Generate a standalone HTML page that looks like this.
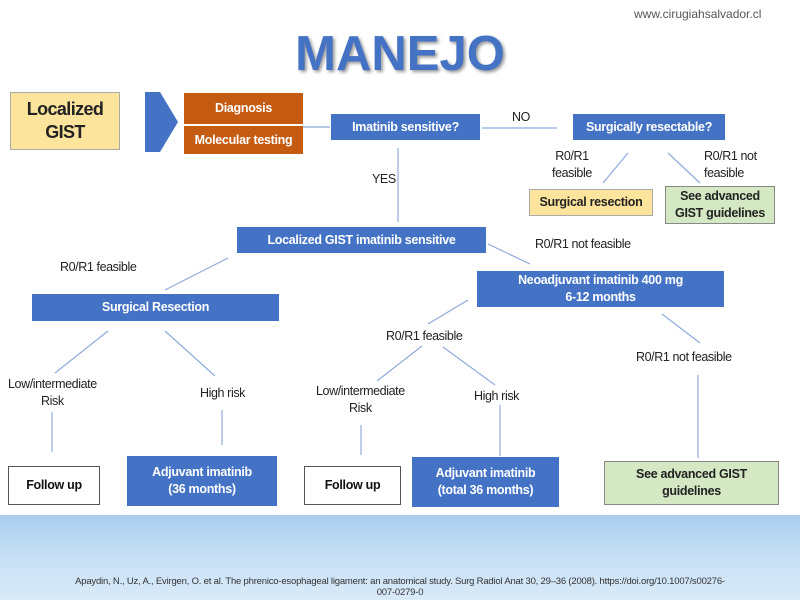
<!DOCTYPE html>
<html><head><meta charset="utf-8"><style>
body{margin:0;width:800px;height:600px;overflow:hidden;background:#fff;position:relative;font-family:"Liberation Sans",sans-serif;}
.b{position:absolute;display:flex;align-items:center;justify-content:center;text-align:center;box-sizing:border-box;font-size:12.5px;font-weight:bold;line-height:17px;letter-spacing:-0.3px;}
.blue{background:#4472c4;color:#fff;}
.t{position:absolute;font-size:12.5px;color:#222;text-align:center;line-height:17px;letter-spacing:-0.4px;}
svg{position:absolute;left:0;top:0;}
</style></head><body>
<div style="position:absolute;left:0;top:515px;width:800px;height:85px;background:linear-gradient(180deg,#a9cdee 0%,#c7e0f5 50%,#d9eaf8 100%);"></div>
<div class="t" style="left:634px;top:6px;font-size:12px;color:#555;letter-spacing:0;">www.cirugiahsalvador.cl</div>
<div style="position:absolute;left:0;width:800px;top:26px;text-align:center;font-weight:bold;font-size:49px;color:#4472c4;text-shadow:2px 2px 3px #999;letter-spacing:0px;">MANEJO</div>
<svg width="800" height="600" stroke="#8faadc" stroke-width="1.2" fill="none">
<polygon points="145,92 160,92 178,122 160,152 145,152 145,152" fill="#4472c4" stroke="none"/>
<line x1="303" y1="127" x2="330" y2="127"/>
<line x1="482" y1="128" x2="557" y2="128"/>
<line x1="628" y1="153" x2="603" y2="183"/><line x1="668" y1="153" x2="700" y2="183"/>
<line x1="398" y1="148" x2="398" y2="222"/>
<line x1="488" y1="244" x2="530" y2="264"/>
<line x1="228" y1="258" x2="165" y2="290"/>
<line x1="108" y1="331" x2="55" y2="373"/><line x1="165" y1="331" x2="215" y2="376"/>
<line x1="52" y1="412" x2="52" y2="452"/><line x1="222" y1="410" x2="222" y2="445"/>
<line x1="468" y1="300" x2="428" y2="324"/><line x1="422" y1="346" x2="377" y2="381"/><line x1="443" y1="347" x2="495" y2="385"/>
<line x1="662" y1="314" x2="700" y2="343"/>
<line x1="361" y1="425" x2="361" y2="455"/><line x1="500" y1="405" x2="500" y2="456"/><line x1="698" y1="375" x2="698" y2="458"/>
</svg>
<div class="b" style="left:10px;top:92px;width:110px;height:58px;background:#fde49c;border:1px solid #aaa;color:#222;font-size:18px;line-height:23px;letter-spacing:-0.6px;">Localized<br>GIST</div>
<div class="b" style="left:184px;top:93px;width:119px;height:31px;background:#c55a11;color:#fff;">Diagnosis</div>
<div class="b" style="left:184px;top:126px;width:119px;height:28px;background:#c55a11;color:#fff;">Molecular testing</div>
<div class="b blue" style="left:331px;top:114px;width:149px;height:26px;">Imatinib sensitive?</div>
<div class="t" style="left:512px;top:109px;">NO</div>
<div class="b blue" style="left:573px;top:114px;width:152px;height:26px;">Surgically resectable?</div>
<div class="t" style="left:552px;top:148px;">R0/R1<br>feasible</div>
<div class="t" style="left:704px;top:148px;text-align:left;">R0/R1 not<br>feasible</div>
<div class="b" style="left:529px;top:189px;width:124px;height:27px;background:#fde49c;border:1px solid #aaa;color:#222;">Surgical resection</div>
<div class="b" style="left:665px;top:186px;width:110px;height:38px;background:#d5e8c4;border:1px solid #888;color:#222;">See advanced<br>GIST guidelines</div>
<div class="t" style="left:372px;top:171px;">YES</div>
<div class="b blue" style="left:237px;top:227px;width:249px;height:26px;">Localized GIST imatinib sensitive</div>
<div class="t" style="left:535px;top:236px;">R0/R1 not feasible</div>
<div class="t" style="left:60px;top:259px;">R0/R1 feasible</div>
<div class="b blue" style="left:477px;top:271px;width:247px;height:36px;">Neoadjuvant imatinib 400 mg<br>6-12 months</div>
<div class="b blue" style="left:32px;top:294px;width:247px;height:27px;">Surgical Resection</div>
<div class="t" style="left:386px;top:328px;">R0/R1 feasible</div>
<div class="t" style="left:636px;top:349px;">R0/R1 not feasible</div>
<div class="t" style="left:8px;top:376px;">Low/intermediate<br>Risk</div>
<div class="t" style="left:200px;top:385px;">High risk</div>
<div class="t" style="left:316px;top:383px;">Low/intermediate<br>Risk</div>
<div class="t" style="left:474px;top:388px;">High risk</div>
<div class="b" style="left:8px;top:466px;width:92px;height:39px;background:#fff;border:1px solid #555;color:#111;">Follow up</div>
<div class="b blue" style="left:127px;top:456px;width:150px;height:50px;">Adjuvant imatinib<br>(36 months)</div>
<div class="b" style="left:304px;top:466px;width:97px;height:39px;background:#fff;border:1px solid #555;color:#111;">Follow up</div>
<div class="b blue" style="left:412px;top:457px;width:147px;height:50px;">Adjuvant imatinib<br>(total 36 months)</div>
<div class="b" style="left:604px;top:461px;width:175px;height:44px;background:#d5e8c4;border:1px solid #888;color:#222;">See advanced GIST<br>guidelines</div>
<div class="t" style="left:0;width:800px;top:576px;font-size:9.5px;line-height:11px;color:#333;letter-spacing:-0.2px;">Apaydin, N., Uz, A., Evirgen, O. et al. The phrenico-esophageal ligament: an anatomical study. Surg Radiol Anat 30, 29–36 (2008). https://doi.org/10.1007/s00276-<br>007-0279-0</div>
</body></html>
